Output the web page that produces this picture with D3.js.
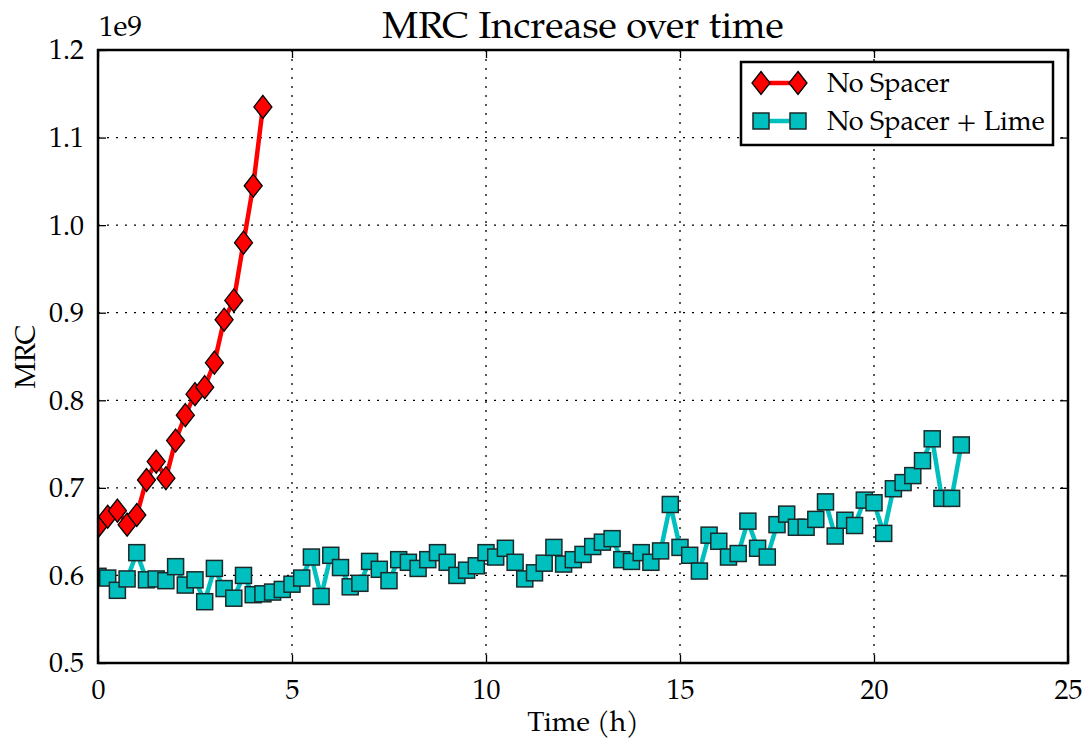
<!DOCTYPE html>
<html>
<head>
<meta charset="utf-8">
<script src="https://cdn.jsdelivr.net/npm/d3@7"></script>
<style>
  body { margin: 0; background: #fff; }
  svg text { font-family: "Palatino Linotype", "Book Antiqua", "TeX Gyre Pagella", "Liberation Serif", serif; fill: #000; }
</style>
</head>
<body>
<div id="chart-container"></div>
<script>
// data (MRC in units of 1e9)
const spacerTime = [0, 0.25, 0.5, 0.75, 1, 1.25, 1.5, 1.75, 2, 2.25, 2.5, 2.75, 3, 3.25, 3.5, 3.75, 4, 4.25];
const spacerMRC = [0.656, 0.667, 0.674, 0.658, 0.669, 0.709, 0.730, 0.711, 0.754, 0.783, 0.807, 0.815,
    0.843, 0.892, 0.914, 0.980, 1.045, 1.135];

const limeTime = [0, 0.25, 0.5, 0.75, 1, 1.25, 1.5, 1.75, 2, 2.25, 2.5, 2.75, 3, 3.25, 3.5, 3.75,
    4, 4.25, 4.5, 4.75, 5, 5.25, 5.5, 5.75, 6, 6.25, 6.5, 6.75, 7, 7.25, 7.5, 7.75,
    8, 8.25, 8.5, 8.75, 9, 9.25, 9.5, 9.75, 10, 10.25, 10.5, 10.75, 11, 11.25, 11.5, 11.75,
    12, 12.25, 12.5, 12.75, 13, 13.25, 13.5, 13.75, 14, 14.25, 14.5, 14.75, 15, 15.25, 15.5, 15.75,
    16, 16.25, 16.5, 16.75, 17, 17.25, 17.5, 17.75, 18, 18.25, 18.5, 18.75, 19, 19.25, 19.5, 19.75,
    20, 20.25, 20.5, 20.75, 21, 21.25, 21.5, 21.75, 22, 22.25];
const limeMRC = [0.599, 0.597, 0.583, 0.596, 0.626, 0.595, 0.596, 0.594, 0.610, 0.589, 0.595, 0.570,
    0.608, 0.585, 0.574, 0.600, 0.578, 0.579, 0.581, 0.584, 0.590, 0.597, 0.621, 0.576,
    0.623, 0.609, 0.587, 0.591, 0.616, 0.607, 0.594, 0.618, 0.615, 0.608, 0.618, 0.626,
    0.615, 0.600, 0.606, 0.611, 0.626, 0.621, 0.631, 0.615, 0.596, 0.603, 0.614, 0.632,
    0.613, 0.618, 0.624, 0.633, 0.638, 0.642, 0.618, 0.616, 0.626, 0.615, 0.628, 0.681,
    0.632, 0.623, 0.605, 0.646, 0.639, 0.621, 0.625, 0.662, 0.631, 0.621, 0.658, 0.670,
    0.655, 0.655, 0.664, 0.684, 0.645, 0.663, 0.657, 0.686, 0.683, 0.648, 0.699, 0.706,
    0.714, 0.731, 0.756, 0.688, 0.688, 0.749];

const xTicks = [0, 5, 10, 15, 20, 25];
const yTicks = [0.5, 0.6, 0.7, 0.8, 0.9, 1.0, 1.1, 1.2];
const seriesNames = ["No Spacer", "No Spacer + Lime"];

const margin = {top: 50, right: 21, bottom: 83, left: 98};
const width = 1089 - margin.left - margin.right;
const height = 746 - margin.top - margin.bottom;

const root = d3.select("#chart-container")
    .append("svg")
        .attr("width", width + margin.left + margin.right)
        .attr("height", height + margin.top + margin.bottom);
const svg = root.append("g")
        .attr("transform", `translate(${margin.left}, ${margin.top})`);

const xScale = d3.scaleLinear().domain([0, 25]).range([0, width]);
const yScale = d3.scaleLinear().domain([0.5, 1.2]).range([height, 0]);

// clip path for the plot area
svg.append("clipPath").attr("id", "plot-clip")
    .append("rect").attr("width", width).attr("height", height);

// grid
const grid = svg.append("g").attr("class", "grid");
grid.selectAll(".vgrid").data(xTicks.slice(1, -1)).join("line")
    .attr("x1", d => xScale(d)).attr("x2", d => xScale(d))
    .attr("y1", 0).attr("y2", height)
    .attr("stroke", "#000").attr("stroke-width", 1.3).attr("stroke-dasharray", "2,7");
grid.selectAll(".hgrid").data(yTicks.slice(1, -1)).join("line")
    .attr("y1", d => yScale(d)).attr("y2", d => yScale(d))
    .attr("x1", 0).attr("x2", width)
    .attr("stroke", "#000").attr("stroke-width", 1.3).attr("stroke-dasharray", "2,7");

// axes (ticks inward on all four sides)
const fmtY = d => d3.format(".1f")(d);
const xAxis = svg.append("g").attr("transform", `translate(0, ${height})`)
    .call(d3.axisBottom(xScale).tickValues(xTicks).tickSize(-8).tickPadding(16).tickFormat(d3.format("d")));
const xTop = svg.append("g")
    .call(d3.axisTop(xScale).tickValues(xTicks).tickSize(-8).tickFormat(""));
const yAxis = svg.append("g")
    .call(d3.axisLeft(yScale).tickValues(yTicks).tickSize(-8).tickPadding(14).tickFormat(fmtY));
const yRight = svg.append("g").attr("transform", `translate(${width}, 0)`)
    .call(d3.axisRight(yScale).tickValues(yTicks).tickSize(-8).tickFormat(""));
[xAxis, xTop, yAxis, yRight].forEach(a => {
    a.select(".domain").remove();
    a.selectAll(".tick line").attr("stroke", "#000").attr("stroke-width", 1.3);
    a.selectAll("text").style("font-size", "28px").attr("fill", "#000");
});
xAxis.selectAll("text").attr("dy", "0.71em");

// lines + markers (clipped to the axes like matplotlib)
const plot = svg.append("g").attr("clip-path", "url(#plot-clip)");
const spacerData = spacerTime.map((t, i) => ({t, v: spacerMRC[i]}));
const limeData = limeTime.map((t, i) => ({t, v: limeMRC[i]}));
const line = d3.line().x(d => xScale(d.t)).y(d => yScale(d.v));

plot.append("path").datum(limeData)
    .attr("d", line).attr("fill", "none")
    .attr("stroke", "#00bfbf").attr("stroke-width", 4.5).attr("stroke-linejoin", "round");
plot.selectAll(".sq").data(limeData).join("rect")
    .attr("class", "sq")
    .attr("x", d => xScale(d.t) - 8).attr("y", d => yScale(d.v) - 8)
    .attr("width", 16).attr("height", 16)
    .attr("fill", "#00bfbf").attr("stroke", "#1a2a2a").attr("stroke-width", 1.5);

const diamond = (cx, cy) => `M${cx},${cy - 11.5}L${cx + 9},${cy}L${cx},${cy + 11.5}L${cx - 9},${cy}Z`;
plot.append("path").datum(spacerData)
    .attr("d", line).attr("fill", "none")
    .attr("stroke", "#ff0000").attr("stroke-width", 4.5).attr("stroke-linejoin", "round");
plot.selectAll(".dm").data(spacerData).join("path")
    .attr("class", "dm")
    .attr("d", d => diamond(xScale(d.t), yScale(d.v)))
    .attr("fill", "#ff0000").attr("stroke", "#000").attr("stroke-width", 1.3);

// frame
svg.append("rect").attr("width", width).attr("height", height)
    .attr("fill", "none").attr("stroke", "#000").attr("stroke-width", 2.5);

// titles
root.append("text").attr("x", margin.left + width / 2).attr("y", 38)
    .attr("text-anchor", "middle").style("font-size", "38px").text("MRC Increase over time");
root.append("text").attr("x", margin.left + 1).attr("y", 36)
    .style("font-size", "29px").text("1e9");
root.append("text").attr("x", margin.left + width / 2).attr("y", 731)
    .attr("text-anchor", "middle").style("font-size", "28px").text("Time (h)");
root.append("text")
    .attr("transform", `translate(35, ${margin.top + height / 2}) rotate(-90)`)
    .attr("text-anchor", "middle").style("font-size", "28px").text("MRC");

// legend
const legend = svg.append("g").attr("transform", `translate(${741 - margin.left}, ${62 - margin.top})`);
legend.append("rect").attr("width", 312).attr("height", 83)
    .attr("fill", "#fff").attr("stroke", "#000").attr("stroke-width", 2.5);
const legendRows = [
    {name: seriesNames[0], color: "#ff0000", shape: "diamond", y: 21},
    {name: seriesNames[1], color: "#00bfbf", shape: "square", y: 59}
];
legendRows.forEach(r => {
    legend.append("line").attr("x1", 20).attr("x2", 57).attr("y1", r.y).attr("y2", r.y)
        .attr("stroke", r.color).attr("stroke-width", 4.5);
    [20, 57].forEach(cx => {
        if (r.shape === "diamond") {
            legend.append("path").attr("d", diamond(cx, r.y))
                .attr("fill", r.color).attr("stroke", "#000").attr("stroke-width", 1.3);
        } else {
            legend.append("rect").attr("x", cx - 8).attr("y", r.y - 8).attr("width", 16).attr("height", 16)
                .attr("fill", r.color).attr("stroke", "#1a2a2a").attr("stroke-width", 1.5);
        }
    });
    legend.append("text").attr("x", 86).attr("y", r.y + 9)
        .style("font-size", "27px").text(r.name);
});
</script>
</body>
</html>
